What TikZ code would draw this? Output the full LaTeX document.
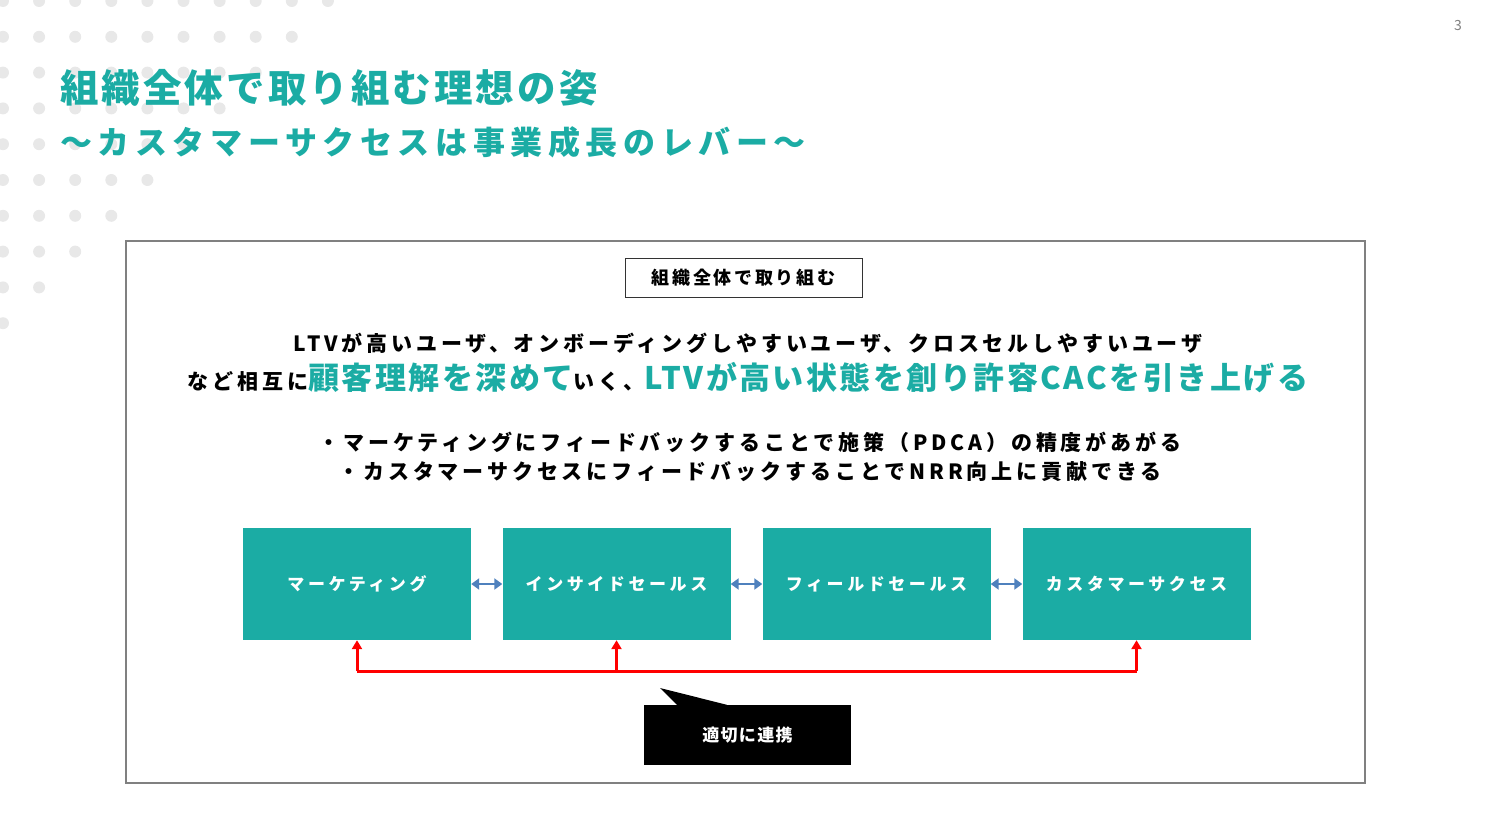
\documentclass[tikz,border=0pt]{standalone}
\usepackage{fontspec}
\setmainfont{Noto Sans CJK JP}
\newfontfamily\jpwide{Noto Sans CJK JP}[LetterSpace=21]
\newfontfamily\jptitel{Noto Sans CJK JP}[LetterSpace=17.5]
\newfontfamily\jpzeile{Noto Sans CJK JP}[LetterSpace=18.5]
\newfontfamily\jpmid{Noto Sans CJK JP}[LetterSpace=8]
\newfontfamily\jpkopf{Noto Sans CJK JP}[LetterSpace=15]
\usetikzlibrary{positioning, arrows.meta}
\definecolor{hauptfarbe}{RGB}{27,172,164}
\definecolor{punktgrau}{RGB}{232,232,232}
\definecolor{rahmengrau}{RGB}{128,128,128}
\definecolor{pfeilblau}{RGB}{79,129,189}

\begin{document}
\begin{tikzpicture}[
        x=1pt, y=-1pt,
        punkt/.style={fill=punktgrau},
        phase/.style={rectangle, fill=hauptfarbe, minimum width=228pt, minimum height=112pt, inner sep=0pt, text=white, font=\jpwide\bfseries\fontsize{17}{20}\selectfont},
        zeile/.style={inner sep=0pt, align=center, font=\jpzeile\bfseries\fontsize{21}{26}\selectfont},
        blaupfeil/.style={draw=pfeilblau, line width=2.5pt, {Triangle[length=8pt,width=11pt]}-{Triangle[length=8pt,width=11pt]}},
        rotpfeil/.style={draw=red, line width=3pt, -{Triangle[length=9pt,width=10pt]}}
    ]

    % Hintergrund
    \useasboundingbox (0,0) rectangle (1486,832);

    % Punktmuster oben links
    \foreach \r in {0,...,9} {
        \pgfmathtruncatemacro\anzahl{9-\r}
        \foreach \c in {0,...,\anzahl}
            \fill[punkt] (3+36.1*\c, 1+35.8*\r) circle[radius=6pt];
    }

    % Seitenzahl
    \node[text=rahmengrau, font=\fontsize{14}{16}\selectfont] (seite) at (1458,26) {3};

    % Titel
    \node[anchor=west, inner sep=0pt, text=hauptfarbe, font=\jpmid\bfseries\fontsize{38.5}{44}\selectfont] (titel) at (60,88) {組織全体で取り組む理想の姿};
    \node[anchor=west, inner sep=0pt, text=hauptfarbe, font=\jptitel\bfseries\fontsize{32}{36}\selectfont] (untertitel) at (60,142) {〜カスタマーサクセスは事業成長のレバー〜};

    % Äußerer Rahmen
    \node[draw=rahmengrau, line width=2.5pt, rectangle, minimum width=1239pt, minimum height=542pt] (rahmen) at (745.5,512) {};

    % Überschrift im Rahmen
    \node[draw=black!80, line width=1pt, rectangle, minimum width=237pt, minimum height=39pt, font=\jpkopf\bfseries\fontsize{18}{20}\selectfont] (kopf) at (743.5,277.5) {組織全体で取り組む};

    % Textzeilen
    \node[zeile] (zeile1) at (748,343) {LTVが高いユーザ、オンボーディングしやすいユーザ、クロスセルしやすいユーザ};
    \node[zeile, anchor=base] (zeile2) at (748,389) {など相互に{\jpmid\color{hauptfarbe}\fontsize{31}{36}\selectfont 顧客理解を深めて}いく、{\jpmid\color{hauptfarbe}\fontsize{31}{36}\selectfont LTVが高い状態を創り許容CACを引き上げる}};
    \node[zeile] (zeile3) at (750,442) {・マーケティングにフィードバックすることで施策（PDCA）の精度があがる};
    \node[zeile] (zeile4) at (750,472) {・カスタマーサクセスにフィードバックすることでNRR向上に貢献できる};

    % Phasen
    \node[phase] (marketing) at (357,584) {マーケティング};
    \node[phase] (inside) at (616.5,584) {インサイドセールス};
    \node[phase] (field) at (876.5,584) {フィールドセールス};
    \node[phase] (success) at (1136.5,584) {カスタマーサクセス};

    % Verbindungen zwischen Phasen
    \draw[blaupfeil] (marketing) -- (inside);
    \draw[blaupfeil] (inside) -- (field);
    \draw[blaupfeil] (field) -- (success);

    % Rote Rückkopplung
    \coordinate (schiene) at (0,671);
    \draw[red, line width=3pt] (marketing.south |- schiene) -- (success.south |- schiene);
    \draw[rotpfeil] (marketing.south |- schiene) -- (marketing.south);
    \draw[rotpfeil] (inside.south |- schiene) -- (inside.south);
    \draw[rotpfeil] (success.south |- schiene) -- (success.south);

    % Sprechblase
    \node[rectangle, fill=black, minimum width=207pt, minimum height=60pt, text=white, font=\jpmid\bfseries\fontsize{17}{20}\selectfont] (blase) at (747.5,735) {適切に連携};
    \coordinate (spitze) at (660,688);
    \fill (blase.north west) ++(33,0) -- (spitze) -- ([xshift=83pt]blase.north west) -- cycle;

\end{tikzpicture}
\end{document}
